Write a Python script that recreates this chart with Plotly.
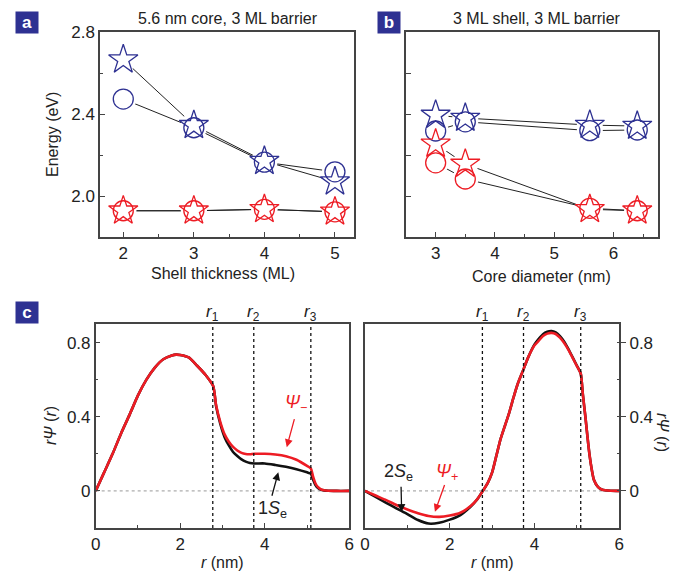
import plotly.graph_objects as go

# ---------------- data ----------------
# panel a: shell thickness (ML)
x_a = [2, 3, 4, 5]
a_blue_star = [2.665, 2.345, 2.170, 2.070]
a_blue_circ = [2.473, 2.333, 2.165, 2.118]
a_red_star = [1.928, 1.928, 1.935, 1.923]
a_red_circ = [1.928, 1.928, 1.935, 1.923]

# panel b: core diameter (nm)
x_b = [3, 3.5, 5.6, 6.4]
b_blue_star = [2.395, 2.380, 2.346, 2.341]
b_blue_circ = [2.317, 2.362, 2.319, 2.322]
b_red_star = [2.254, 2.156, 1.935, 1.928]
b_red_circ = [2.162, 2.083, 1.940, 1.928]

# panel c: radial wavefunctions
r_left = [0, 0.2, 0.4, 0.6, 0.8, 1.0, 1.2, 1.4, 1.6, 1.8, 1.9, 2.0, 2.2, 2.4, 2.6, 2.78,
          2.85, 2.95, 3.05, 3.15, 3.25, 3.35, 3.45, 3.55, 3.65, 3.75, 4.0, 4.25, 4.5, 4.75,
          5.0, 5.09, 5.14, 5.2, 5.26, 5.32, 5.4, 5.5, 5.7, 6.0]
psi_minus = [0, 0.10, 0.20, 0.31, 0.41, 0.515, 0.60, 0.665, 0.71, 0.73, 0.735, 0.733, 0.72,
             0.675, 0.625, 0.565,
             0.46, 0.37, 0.305, 0.265, 0.237, 0.218, 0.205, 0.199, 0.198, 0.2, 0.2, 0.196,
             0.187, 0.168, 0.135, 0.121, 0.08, 0.04, 0.02, 0.01, 0.004, 0.001, 0.0, 0.0]
psi_1se = [0, 0.10, 0.20, 0.31, 0.41, 0.515, 0.60, 0.665, 0.71, 0.73, 0.735, 0.733, 0.72,
           0.675, 0.625, 0.565,
           0.455, 0.36, 0.29, 0.245, 0.21, 0.188, 0.17, 0.158, 0.151, 0.148, 0.148, 0.14,
           0.13, 0.117, 0.10, 0.093, 0.063, 0.032, 0.015, 0.007, 0.003, 0.001, 0.0, 0.0]

r_right = [0, 0.25, 0.5, 0.75, 1.0, 1.25, 1.5, 1.75, 2.0, 2.25, 2.5, 2.65, 2.78,
           2.9, 3.0, 3.1, 3.2, 3.3, 3.4, 3.5, 3.6, 3.73, 3.85, 4.0, 4.1, 4.2, 4.3, 4.4,
           4.5, 4.6, 4.7, 4.8, 4.9, 5.0, 5.09, 5.14, 5.2, 5.25, 5.3, 5.35, 5.4, 5.5,
           5.6, 5.8, 6.0]
psi_2se = [0, -0.032, -0.064, -0.095, -0.125, -0.157, -0.176, -0.172, -0.155, -0.13, -0.083,
           -0.045, 0.0,
           0.045, 0.10, 0.19, 0.28, 0.35, 0.42, 0.50, 0.575, 0.65, 0.72, 0.79, 0.82, 0.845,
           0.858, 0.862, 0.855, 0.835, 0.805, 0.765, 0.72, 0.675, 0.633, 0.52, 0.40, 0.29,
           0.19, 0.115, 0.06, 0.02, 0.006, 0.001, 0.0]
psi_plus = [0, -0.025, -0.05, -0.077, -0.10, -0.12, -0.135, -0.14, -0.133, -0.118, -0.08,
            -0.044, 0.0,
            0.045, 0.10, 0.19, 0.28, 0.35, 0.42, 0.50, 0.575, 0.65, 0.72, 0.785, 0.81, 0.835,
            0.848, 0.852, 0.846, 0.826, 0.797, 0.76, 0.717, 0.673, 0.633, 0.52, 0.40, 0.29,
            0.19, 0.115, 0.06, 0.02, 0.006, 0.001, 0.0]

r_bounds = [2.77, 3.74, 5.09]
r_labels = ["<i>r</i><sub>1</sub>", "<i>r</i><sub>2</sub>", "<i>r</i><sub>3</sub>"]

# ---------------- style ----------------
FONT = "Liberation Sans, Arial, sans-serif"
BLUE = "#2e3192"
RED = "#ed1c24"
AXC = "#444444"
FS = 16
TFS = 17

fig = go.Figure()


def add_energy_panel(xa, ya, xs, bstar, bcirc, rstar, rcirc):
    for ys in (bstar, bcirc, rstar, rcirc):
        fig.add_trace(go.Scatter(x=xs, y=ys, mode="lines", xaxis=xa, yaxis=ya,
                                 line=dict(color="#222222", width=1), showlegend=False,
                                 hoverinfo="skip"))
    for ys in (bstar, bcirc, rstar, rcirc):
        fig.add_trace(go.Scatter(x=xs, y=ys, mode="markers", xaxis=xa, yaxis=ya,
                                 marker=dict(symbol="circle", size=26, color="white",
                                             line=dict(width=0)),
                                 showlegend=False, hoverinfo="skip"))
    for ys, sym, col in ((bcirc, "circle-open", BLUE), (rcirc, "circle-open", RED),
                         (bstar, "star-open", BLUE), (rstar, "star-open", RED)):
        size = 20 if sym == "circle-open" else 22
        fig.add_trace(go.Scatter(x=xs, y=ys, mode="markers", xaxis=xa, yaxis=ya,
                                 marker=dict(symbol=sym, size=size, color=col,
                                             line=dict(color=col, width=1.3)),
                                 showlegend=False))


add_energy_panel("x", "y", x_a, a_blue_star, a_blue_circ, a_red_star, a_red_circ)
add_energy_panel("x2", "y2", x_b, b_blue_star, b_blue_circ, b_red_star, b_red_circ)

for xs, ys, col, xa, ya in ((r_left, psi_1se, "#111111", "x3", "y3"),
                            (r_left, psi_minus, RED, "x3", "y3"),
                            (r_right, psi_2se, "#111111", "x4", "y4"),
                            (r_right, psi_plus, RED, "x4", "y4")):
    fig.add_trace(go.Scatter(x=xs, y=ys, mode="lines", xaxis=xa, yaxis=ya,
                             line=dict(color=col, width=2.6, shape="spline", smoothing=0.6),
                             showlegend=False))

# ---------------- axes ----------------
tickfont = dict(family=FONT, size=TFS, color="#222222")
common = dict(showgrid=False, zeroline=False, showline=True, linecolor=AXC, linewidth=1.5,
              mirror=True, ticklen=5, tickcolor=AXC, tickwidth=1,
              tickfont=tickfont, automargin=False)
minor = dict(ticks="inside", ticklen=3, tickcolor=AXC, tickwidth=1)

top_dom = [1 - 237 / 575, 1 - 32 / 575]
bot_dom = [1 - 528 / 575, 1 - 324 / 575]

fig.update_layout(
    xaxis=dict(domain=[100 / 680, 354 / 680], range=[1.67, 5.27], tick0=0, dtick=1,
               ticks="inside", minor=dict(dtick=0.5, **minor), anchor="y", **common),
    yaxis=dict(domain=top_dom, range=[1.8, 2.8], tick0=2.0, dtick=0.4, tickformat=".1f",
               ticks="inside", minor=dict(dtick=0.2, **minor), anchor="x", **common),
    xaxis2=dict(domain=[406 / 680, 658 / 680], range=[2.5, 6.75], tick0=0, dtick=1,
                ticks="inside", minor=dict(dtick=0.5, **minor), anchor="y2", **common),
    yaxis2=dict(domain=top_dom, range=[1.8, 2.8], tick0=2.0, dtick=0.2, ticks="inside",
                showticklabels=False, anchor="x2", **common),
    xaxis3=dict(domain=[95.7 / 680, 349.3 / 680], range=[0, 6], tick0=0, dtick=2,
                ticks="inside", minor=dict(dtick=1, **minor), anchor="y3", **common),
    yaxis3=dict(domain=bot_dom, range=[-0.2, 0.9], tick0=0, dtick=0.4, ticks="inside",
                minor=dict(dtick=0.2, **minor), anchor="x3", **common),
    xaxis4=dict(domain=[365 / 680, 619.3 / 680], range=[0, 6], tick0=0, dtick=2,
                ticks="inside", minor=dict(dtick=1, **minor), anchor="y4", **common),
    yaxis4=dict(domain=bot_dom, range=[-0.2, 0.9], tick0=0, dtick=0.4, side="right",
                ticks="outside", minor=dict(dtick=0.2, **minor), anchor="x4", **common),
)

# ---------------- shapes ----------------
shapes = []
for xr, yr in (("x3", "y3"), ("x4", "y4")):
    shapes.append(dict(type="line", xref=xr, yref=yr, x0=0, x1=6, y0=0, y1=0,
                       line=dict(color="#999999", width=1, dash="dot"), layer="below"))
    for rb in r_bounds:
        shapes.append(dict(type="line", xref=xr, yref=yr + " domain", x0=rb, x1=rb, y0=0, y1=1,
                           line=dict(color="#111111", width=1.3, dash="dot")))
fig.update_layout(shapes=shapes)

# ---------------- annotations ----------------
ann = []


def text(x, y, s, size=FS, color="#222222", angle=0, xref="paper", yref="paper", **kw):
    ann.append(dict(x=x, y=y, xref=xref, yref=yref, text=s, showarrow=False, textangle=angle,
                    xanchor="center", yanchor="middle",
                    font=dict(family=FONT, size=size, color=color), **kw))


def px(xp):
    return xp / 680


def py(yp):
    return 1 - yp / 575


text(px(228), py(19), "5.6 nm core, 3 ML barrier")
text(px(537), py(19), "3 ML shell, 3 ML barrier")
text(px(52), py(135), "Energy (eV)", angle=-90)
text(px(223), py(273), "Shell thickness (ML)")
text(px(541), py(276), "Core diameter (nm)")
text(px(222), py(562), "<i>r</i> (nm)")
text(px(492), py(562), "<i>r</i> (nm)")
text(px(50), py(426), "<i>rΨ</i> (<i>r</i>)", angle=-90)
text(px(662), py(432), "<i>rΨ</i> (<i>r</i>)", angle=90)

for lx, ly, letter in ((26.5, 22.5, "a"), (388.5, 22.5, "b"), (26.5, 312.5, "c")):
    ann.append(dict(x=px(lx), y=py(ly), xref="paper", yref="paper", text="<b>%s</b>" % letter,
                    showarrow=False, bgcolor=BLUE, width=20, height=19, borderpad=1,
                    xanchor="center", yanchor="middle",
                    font=dict(family=FONT, size=17, color="white")))

for xr in ("x3", "x4"):
    for rb, lab in zip(r_bounds, r_labels):
        ann.append(dict(x=rb, y=py(313), xref=xr, yref="paper", text=lab, showarrow=False,
                        xanchor="center", yanchor="middle",
                        font=dict(family=FONT, size=17, color="#222222")))

text(4.75, 0.47, "<i>Ψ</i><sub>−</sub>", size=18, color=RED, xref="x3", yref="y3")
text(4.19, -0.10, "1<i>S</i><sub>e</sub>", size=18, xref="x3", yref="y3")
text(0.78, 0.10, "2<i>S</i><sub>e</sub>", size=18, xref="x4", yref="y4")
text(1.93, 0.10, "<i>Ψ</i><sub>+</sub>", size=18, color=RED, xref="x4", yref="y4")


def arrow(xr, yr, x0, y0, x1, y1, color):
    ann.append(dict(x=x1, y=y1, ax=x0, ay=y0, xref=xr, yref=yr, axref=xr, ayref=yr,
                    text="", showarrow=True, arrowhead=2, arrowsize=1.2, arrowwidth=1.3,
                    arrowcolor=color))


arrow("x3", "y3", 4.71, 0.395, 4.52, 0.236, RED)
arrow("x3", "y3", 4.16, -0.034, 4.32, 0.10, "#111111")
arrow("x4", "y4", 0.85, 0.03, 0.865, -0.113, "#111111")
arrow("x4", "y4", 1.89, 0.04, 1.65, -0.113, RED)

fig.update_layout(annotations=ann, width=680, height=575,
                  margin=dict(l=0, r=0, t=0, b=0, pad=0, autoexpand=False),
                  paper_bgcolor="white", plot_bgcolor="white",
                  font=dict(family=FONT, size=FS))

fig.write_html("out.html")
